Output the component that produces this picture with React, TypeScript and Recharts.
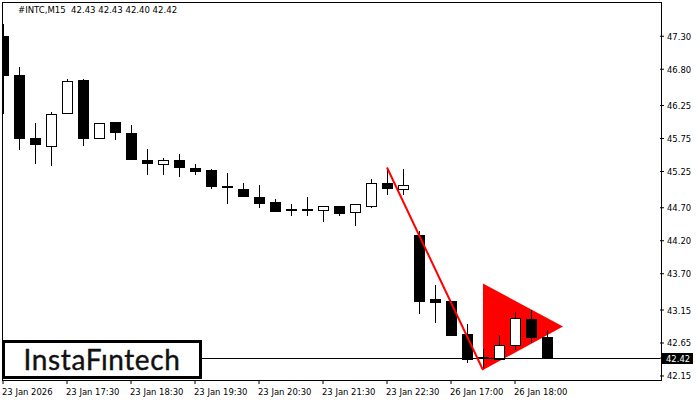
import React from "react";
import { ComposedChart, Bar, Line, Area, XAxis, YAxis, ReferenceLine } from "recharts";

const opens = [47.30,46.71,45.75,45.63,46.13,46.63,45.75,46.00,45.84,45.43,45.36,45.43,45.31,45.27,45.01,44.99,44.87,44.79,44.66,44.66,44.66,44.72,44.63,44.73,45.07,44.99,44.29,43.31,43.29,42.79,42.42,42.41,42.62,43.02,42.74,42.43];
const closes = [46.69,45.74,45.65,46.12,46.62,45.74,45.98,45.84,45.43,45.36,45.42,45.31,45.24,45.01,45.01,44.86,44.76,44.63,44.66,44.66,44.73,44.60,44.75,45.08,44.98,45.05,43.27,43.26,42.76,42.39,42.42,42.62,43.03,42.73,42.42,42.42];
const highs = [47.48,46.83,45.98,46.15,46.65,46.65,45.98,46.00,45.96,45.59,45.46,45.52,45.37,45.28,45.22,45.07,45.05,44.83,44.75,44.87,44.73,44.73,44.75,45.13,45.30,45.28,44.35,43.53,43.29,42.94,42.56,42.77,43.12,43.15,42.85,42.43];
const lows = [46.12,45.57,45.37,45.33,46.13,45.63,45.74,45.72,45.43,45.20,45.20,45.17,45.19,44.98,44.76,44.86,44.70,44.63,44.57,44.57,44.49,44.58,44.43,44.69,44.90,44.89,43.09,42.96,42.76,42.35,42.27,42.41,42.55,42.65,42.42,42.40];

const poleIndex = [24, 30];
const poleValues = [45.31, 42.24];
const triangleIndex = [30, 35];
const triangleLow = [42.24, 42.90];
const triangleHigh = [43.55, 42.90];

const timeTickIndex = [0, 4, 8, 12, 16, 20, 24, 28, 32];
const timeTickLabels = ["23 Jan 2026","23 Jan 17:30","23 Jan 18:30","23 Jan 19:30","23 Jan 20:30","23 Jan 21:30","23 Jan 22:30","26 Jan 17:00","26 Jan 18:00"];
const priceTicks = [47.3,46.8,46.25,45.75,45.25,44.7,44.2,43.7,43.15,42.65,42.42,42.15];
const lastPrice = 42.42;
const font = "'DejaVu Sans Condensed', 'DejaVu Sans', sans-serif";

const rows = opens.map((o, i) => {
  const pole = poleIndex.indexOf(i);
  const tri = triangleIndex.indexOf(i);
  return {
    i, open: o, close: closes[i], high: highs[i], low: lows[i],
    range: [lows[i], highs[i]],
    pole: pole >= 0 ? poleValues[pole] : undefined,
    tri: tri >= 0 ? [triangleLow[tri], triangleHigh[tri]] : undefined,
  };
});

function Candle(props: any) {
  const { x, y, width, height, payload } = props;
  const top = payload.range[1];
  const scale = height / (payload.range[1] - payload.range[0]);
  const cx = Math.round(x + width / 2);
  const py = (p: number) => Math.round(y + (top - p) * scale);
  const up = payload.close > payload.open;
  const bt = py(Math.max(payload.open, payload.close));
  const bb = py(Math.min(payload.open, payload.close));
  const doji = Math.abs(payload.close - payload.open) < 0.005;
  const tiny = payload.high - payload.low < 0.05;
  const left = Math.max(cx - 5, 3);
  const w = cx + 5 - left;
  return (
    <g shapeRendering="crispEdges">
      <line x1={cx + 0.5} x2={cx + 0.5} y1={py(payload.high)} y2={py(payload.low)} stroke="#000" />
      {tiny ? null : doji ? (
        <rect x={left} y={bt - 1} width={w + 1} height={2} fill="#000" />
      ) : up ? (
        <rect x={left + 0.5} y={bt + 0.5} width={w} height={Math.max(bb - bt, 1)} fill="#fff" stroke="#000" />
      ) : (
        <rect x={left} y={bt} width={w + 1} height={Math.max(bb - bt, 1)} fill="#000" />
      )}
    </g>
  );
}

function TimeTick(props: any) {
  const { x, y, payload } = props;
  const label = timeTickLabels[timeTickIndex.indexOf(payload.value)];
  return (
    <text x={x - 1} y={y + 9} fontFamily={font} fontSize={9.4} fill="#000" textAnchor="start">{label}</text>
  );
}

function PriceTick(props: any) {
  const { x, y, payload } = props;
  if (payload.value === lastPrice) {
    return (
      <g>
        <rect x={662} y={Math.round(y) - 5} width={31} height={11} fill="#000" />
        <text x={666} y={y + 3.5} fontFamily={font} fontSize={9.4} fill="#fff">{payload.value.toFixed(2)}</text>
      </g>
    );
  }
  return (
    <text x={x + 1} y={y + 3.5} fontFamily={font} fontSize={9.4} fill="#000">{payload.value.toFixed(2)}</text>
  );
}

export default function App() {
  return (
    <div style={{ position: "absolute", left: 0, top: 0, width: 700, height: 400, background: "#fff", overflow: "hidden" }}>
      <div style={{ position: "absolute", left: 2, top: 2, width: 658, height: 377, border: "1px solid #000", boxSizing: "content-box" }} />
      <ComposedChart width={700} height={400} data={rows} margin={{ top: 2, left: 3, right: 0, bottom: 0 }}>
        <XAxis
          dataKey="i" type="number" domain={[0, 41.0625]} allowDataOverflow
          ticks={timeTickIndex} interval={0} height={20}
          tick={<TimeTick />} tickSize={4} axisLine={false} tickLine={{ stroke: "#000" }}
        />
        <YAxis
          orientation="right" type="number" domain={[42.089, 47.819]} allowDataOverflow
          ticks={priceTicks} interval={0} width={40}
          tick={<PriceTick />} tickSize={4} axisLine={false} tickLine={{ stroke: "#000" }}
        />
        <Area dataKey="tri" type="linear" connectNulls stroke="none" fill="#ff0000" fillOpacity={1} isAnimationActive={false} dot={false} activeDot={false} />
        <ReferenceLine y={lastPrice} stroke="#000" strokeWidth={1} shapeRendering="crispEdges" />
        <Bar dataKey="range" barSize={11} shape={<Candle />} isAnimationActive={false} />
        <Line dataKey="pole" type="linear" connectNulls stroke="#ff0000" strokeWidth={2} dot={false} activeDot={false} isAnimationActive={false} />
      </ComposedChart>
      <div style={{ position: "absolute", left: 18, top: 4, fontFamily: font, fontSize: 9.5, color: "#000", whiteSpace: "pre", lineHeight: "12px" }}>
        {"#INTC,M15  42.43 42.43 42.40 42.42"}
      </div>
      <div style={{
        position: "absolute", left: 2, top: 340, width: 200, height: 39, boxSizing: "border-box",
        border: "3px solid #000", background: "#fff", color: "#111", fontFamily: "Lato, sans-serif",
        fontSize: 28, lineHeight: "33px", textAlign: "center", letterSpacing: 0.6, WebkitTextStroke: "0.4px #111",
      }}>InstaFıntech</div>
    </div>
  );
}
